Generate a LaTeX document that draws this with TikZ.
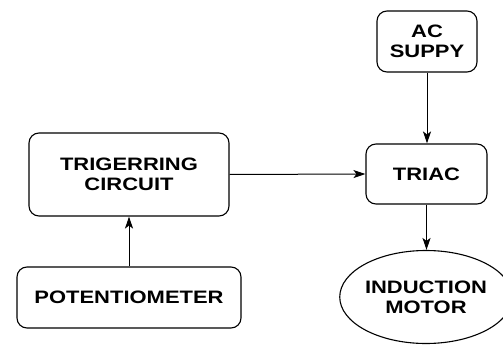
\documentclass[tikz,border=0pt]{standalone}
\usepackage{fontspec}
\setmainfont{Liberation Sans}[FakeStretch=1.22]
\usetikzlibrary{shapes.geometric,arrows.meta}
\begin{document}
\begin{tikzpicture}[x=1pt,y=-1pt,
  blk/.style={draw,line width=1.1pt,rounded corners=10pt,align=center,
    font=\fontsize{18}{20}\selectfont\bfseries,inner sep=0pt},
  arr/.style={line width=1pt,-{Stealth[length=12pt,width=8pt,inset=3pt]}}]
\useasboundingbox (0,0) rectangle (503,345);
\node[blk,minimum width=200pt,minimum height=83pt] (trig) at (129,174.5) {TRIGERRING\\CIRCUIT};
\node[blk,minimum width=224pt,minimum height=61pt] (pot) at (129,297.5) {POTENTIOMETER};
\node[blk,minimum width=100pt,minimum height=61pt] (ac) at (427,41.5) {AC\\SUPPY};
\node[blk,minimum width=121pt,minimum height=60pt] (triac) at (426.5,174) {TRIAC};
\node[draw,line width=1.1pt,ellipse,minimum width=144pt,minimum height=93pt,inner sep=0pt,align=center,
  font=\fontsize{18}{20}\selectfont\bfseries] (mot) at (426,297) {INDUCTION\\MOTOR};
\draw[arr] (pot.north) -- (trig.south);
\draw[arr] (trig.east) -- (triac.west);
\draw[arr] (ac.south) -- (ac.south |- triac.north);
\draw[arr] (triac.south) -- (triac.south |- mot.north);
\end{tikzpicture}
\end{document}
